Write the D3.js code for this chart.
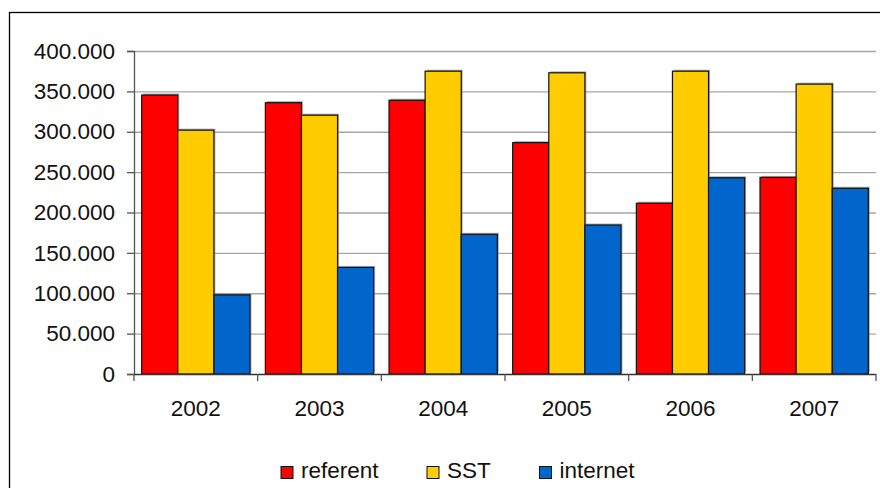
<!DOCTYPE html>
<html>
<head>
<meta charset="utf-8">
<script src="https://cdn.jsdelivr.net/npm/d3@7/dist/d3.min.js"></script>
<style>
  html, body { margin: 0; padding: 0; background: #fff; }
  svg { display: block; font-family: "Liberation Sans", Arial, sans-serif; }
</style>
</head>
<body>
<svg id="chart" width="880" height="488"></svg>
<script>
// Yearly totals per channel
const years = ["2002", "2003", "2004", "2005", "2006", "2007"];
const seriesNames = ["referent", "SST", "internet"];
const seriesColors = ["#ff0000", "#ffcc00", "#0066cc"];
const referent = [345500, 336000, 339000, 286500, 211500, 243500];
const sst = [302000, 320500, 375000, 373000, 375000, 359000];
const internet = [98000, 132000, 173000, 184500, 243000, 230000];
const yTicks = [0, 50000, 100000, 150000, 200000, 250000, 300000, 350000, 400000];

const seriesValues = [referent, sst, internet];

const svg = d3.select("#chart");

// Outer chart frame
svg.append("rect")
  .attr("x", 9.5).attr("y", 12.5)
  .attr("width", 880).attr("height", 490)
  .attr("fill", "none").attr("stroke", "#000").attr("stroke-width", 1.3);

const plot = { left: 134, right: 876, top: 51, bottom: 374 };

const x = d3.scaleBand().domain(years).range([plot.left, plot.right]).paddingInner(0).paddingOuter(0);
const xInner = d3.scaleBand().domain(seriesNames).range([0, x.bandwidth()]).paddingInner(0).paddingOuter(0.213);
const y = d3.scaleLinear().domain([0, 400000]).range([plot.bottom, plot.top]);

const fmt = v => v === 0 ? "0" : d3.format(",")(v).replace(/,/g, ".");

// Horizontal gridlines
svg.append("g")
  .selectAll("line")
  .data(yTicks.filter(t => t > 0))
  .join("line")
  .attr("x1", plot.left).attr("x2", plot.right)
  .attr("y1", d => y(d) + 0.5).attr("y2", d => y(d) + 0.5)
  .attr("stroke", "#a6a6a6").attr("stroke-width", 1.3);

// Bars (with a faint drop shadow)
const groups = svg.append("g")
  .selectAll("g")
  .data(years.map((yr, i) => ({ yr, vals: seriesValues.map((s, k) => ({ k, name: seriesNames[k], v: s[i] })) })))
  .join("g")
  .attr("transform", d => `translate(${x(d.yr)},0)`);

groups.selectAll("rect.shadow")
  .data(d => d.vals)
  .join("rect")
  .attr("class", "shadow")
  .attr("x", d => xInner(d.name) + 1.5)
  .attr("y", d => y(d.v) - 1.5)
  .attr("width", xInner.bandwidth())
  .attr("height", d => y(0) - y(d.v))
  .attr("fill", "#8a8a8a").attr("opacity", 0.7);

groups.selectAll("rect.bar")
  .data(d => d.vals)
  .join("rect")
  .attr("class", "bar")
  .attr("x", d => xInner(d.name))
  .attr("y", d => y(d.v))
  .attr("width", xInner.bandwidth())
  .attr("height", d => y(0) - y(d.v))
  .attr("fill", d => seriesColors[d.k])
  .attr("stroke", "#111").attr("stroke-width", 1.2);

// Y axis
const yAxis = d3.axisLeft(y).tickValues(yTicks).tickFormat(fmt).tickSize(7).tickPadding(12);
const gy = svg.append("g").attr("transform", `translate(${plot.left},0)`).call(yAxis);
gy.select(".domain").attr("stroke", "#555").attr("stroke-width", 1.3);
gy.selectAll(".tick line").attr("stroke", "#555").attr("stroke-width", 1.3);
gy.selectAll("text").attr("font-size", 22.5).attr("fill", "#111").attr("font-family", "Liberation Sans, Arial, sans-serif");

// X axis (ticks on category boundaries)
svg.append("line")
  .attr("x1", plot.left).attr("x2", plot.right)
  .attr("y1", plot.bottom + 0.5).attr("y2", plot.bottom + 0.5)
  .attr("stroke", "#333").attr("stroke-width", 1.5);
svg.append("g")
  .selectAll("line")
  .data(years.map(yr => x(yr)).concat([plot.right]))
  .join("line")
  .attr("x1", d => d).attr("x2", d => d)
  .attr("y1", plot.bottom).attr("y2", plot.bottom + 7)
  .attr("stroke", "#555").attr("stroke-width", 1.3);
svg.append("g")
  .selectAll("text")
  .data(years)
  .join("text")
  .attr("x", d => x(d) + x.bandwidth() / 2)
  .attr("y", 416)
  .attr("text-anchor", "middle")
  .attr("font-size", 22.5).attr("fill", "#111")
  .text(d => d);

// Legend
const legendItems = [
  { name: seriesNames[0], color: seriesColors[0], x: 281 },
  { name: seriesNames[1], color: seriesColors[1], x: 427 },
  { name: seriesNames[2], color: seriesColors[2], x: 539.5 }
];
const lg = svg.append("g").selectAll("g").data(legendItems).join("g")
  .attr("transform", d => `translate(${d.x},0)`);
lg.append("rect")
  .attr("x", 0).attr("y", 466.5).attr("width", 12).attr("height", 12)
  .attr("fill", d => d.color).attr("stroke", "#111").attr("stroke-width", 1);
lg.append("text")
  .attr("x", 20).attr("y", 478)
  .attr("font-size", 22.5).attr("fill", "#111")
  .text(d => d.name);
</script>
</body>
</html>
